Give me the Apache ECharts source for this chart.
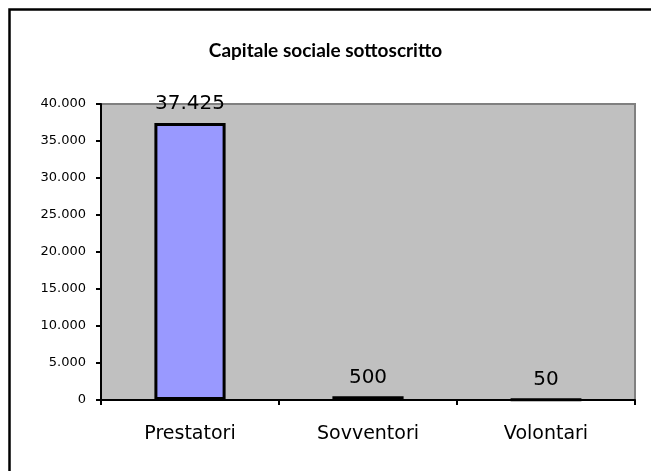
<!DOCTYPE html>
<html><head><meta charset="utf-8">
<script src="https://cdn.jsdelivr.net/npm/echarts@6/dist/echarts.min.js"></script>
<style>html,body{margin:0;padding:0;background:#fff}#c{width:651px;height:471px}</style>
</head><body><div id="c"></div>
<script>
const categories = ['Prestatori', 'Sovventori', 'Volontari'];
const values = [37425, 500, 50];
const yTicks = [0, 5000, 10000, 15000, 20000, 25000, 30000, 35000, 40000];
const titleText = 'Capitale sociale sottoscritto';

function fmt(v){ return String(v).replace(/\B(?=(\d{3})+(?!\d))/g, '.'); }
const FONT = 'DejaVu Sans';
const chart = echarts.init(document.getElementById('c'), null, {renderer:'canvas'});
chart.setOption({
  animation:false,
  backgroundColor:'#fff',
  graphic:[
    {type:'rect', shape:{x:9.5,y:9.5,width:700,height:500}, style:{fill:'none',stroke:'#000',lineWidth:2.5}, z:-10},
    {type:'rect', shape:{x:101,y:104,width:534,height:296}, style:{fill:'#C0C0C0',stroke:'#808080',lineWidth:2}, z:-5}
  ],
  title:{text:titleText,left:'center',top:36,textStyle:{fontFamily:'Lato',fontWeight:'bold',fontSize:19,color:'#000'}},
  grid:{left:101,right:16,top:104,bottom:71,containLabel:false},
  xAxis:{type:'category',data:categories,
    axisLine:{lineStyle:{color:'#000',width:2}},
    axisTick:{show:true,inside:false,length:5,lineStyle:{color:'#000',width:2}},
    axisLabel:{fontFamily:FONT,fontSize:19,color:'#000',margin:25}},
  yAxis:{type:'value',min:0,max:40000,interval:5000,
    axisLine:{show:true,lineStyle:{color:'#000',width:2}},
    axisTick:{show:true,inside:false,length:5,lineStyle:{color:'#000',width:2}},
    splitLine:{show:false},
    axisLabel:{fontFamily:FONT,fontSize:13,color:'#000',margin:15,formatter:v=>yTicks.includes(v)?fmt(v):''}},
  series:[{type:'bar',data:values,barWidth:'40%',
    itemStyle:{color:'#9999FF',borderColor:'#000',borderWidth:3},
    label:{show:true,position:'top',distance:9,fontFamily:FONT,fontSize:20,color:'#000',formatter:p=>fmt(p.value)}}]
});
</script></body></html>
